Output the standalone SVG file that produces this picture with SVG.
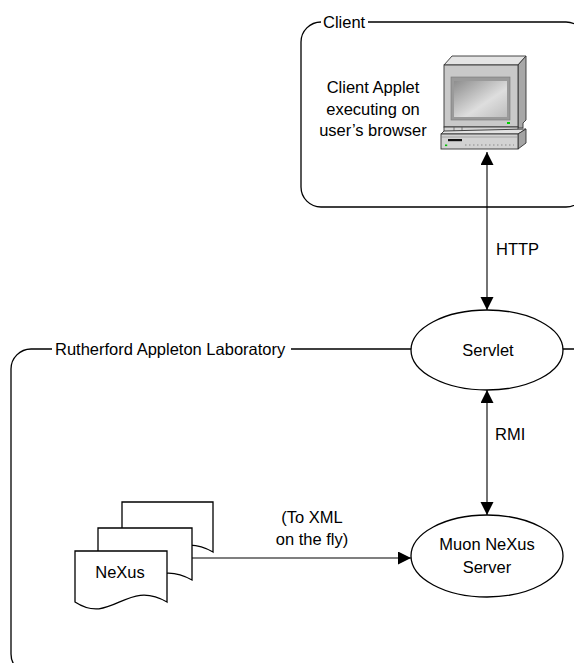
<svg xmlns="http://www.w3.org/2000/svg" width="574" height="663" viewBox="0 0 574 663">
<style>
text{font-family:"Liberation Sans",Arial,sans-serif;font-size:16.5px;fill:#000}
.c{text-anchor:middle}
.box{fill:none;stroke:#000;stroke-width:1.3}
.node{fill:#fff;stroke:#000;stroke-width:1.3}
.conn{stroke:#000;stroke-width:1.1;fill:none}
.ol{stroke:#333;stroke-width:0.9}
</style>
<defs>
<marker id="ah" markerUnits="userSpaceOnUse" markerWidth="14" markerHeight="14" refX="13" refY="6.5" orient="auto-start-reverse">
<path d="M0,0 L13,6.5 L0,13 Z" fill="#000"/>
</marker>
<linearGradient id="scr" x1="0" y1="0" x2="1" y2="1">
<stop offset="0" stop-color="#8e8e8e"/>
<stop offset="0.6" stop-color="#dedede"/>
<stop offset="1" stop-color="#bdbdbd"/>
</linearGradient>
</defs>
<rect x="0" y="0" width="574" height="663" fill="#fff"/>

<g id="client-group">
<rect class="box" x="301" y="22" width="285" height="185" rx="20"/>
<rect x="321" y="14" width="47" height="18" fill="#fff"/>
<text x="323" y="28">Client</text>
</g>

<g id="ral-group">
<rect class="box" x="11" y="349" width="585" height="325" rx="20"/>
<rect x="52" y="340" width="239" height="18" fill="#fff"/>
<text x="55" y="355">Rutherford Appleton Laboratory</text>
</g>

<g id="client-applet">
<text class="c" x="373" y="93">Client Applet</text>
<text class="c" x="373" y="114.5">executing on</text>
<text class="c" x="373" y="136">user’s browser</text>
<g id="computer">
<polygon class="ol" points="444,65 452,56 526,56 518,65" fill="#e4e4e4"/>
<polygon class="ol" points="518,65 526,56 526,120 523,123 523,128 518,128" fill="#a8a8a8"/>
<rect class="ol" x="444" y="65" width="74" height="62" fill="#c9c9c9"/>
<rect x="451" y="77" width="59" height="43" fill="#9a9a9a" stroke="#777" stroke-width="0.6"/>
<rect x="454" y="81" width="53" height="36" fill="url(#scr)"/>
<rect x="507" y="122" width="3" height="2" fill="#00d000"/>
<rect class="ol" x="444" y="127" width="74" height="5" fill="#d4d4d4"/>
<line x1="454" y1="127" x2="454" y2="132" stroke="#555" stroke-width="0.7"/>
<line x1="462" y1="127" x2="462" y2="132" stroke="#555" stroke-width="0.7"/>
<polygon class="ol" points="441,134 444,131 526,129 518,134" fill="#e2e2e2"/>
<polygon class="ol" points="518,134 526,129 526,143 518,149" fill="#a4a4a4"/>
<rect class="ol" x="441" y="134" width="77" height="15" fill="#d2d2d2"/>
<line x1="441" y1="137" x2="518" y2="137" stroke="#888" stroke-width="0.6"/>
<rect x="448" y="139" width="14" height="2.2" fill="#111"/>
<rect x="445" y="144.5" width="2.2" height="1.6" fill="#00c000"/>
<line x1="465" y1="145" x2="514" y2="145" stroke="#8a8a8a" stroke-width="1" stroke-dasharray="1.5,2.5"/>
</g>
</g>

<g id="connectors">
<line class="conn" x1="487" y1="152" x2="487" y2="310" marker-start="url(#ah)" marker-end="url(#ah)"/>
<line class="conn" x1="487" y1="390" x2="487" y2="515" marker-start="url(#ah)" marker-end="url(#ah)"/>
<line class="conn" x1="192" y1="558" x2="411" y2="558" marker-end="url(#ah)"/>
<text x="496" y="255">HTTP</text>
<text x="495" y="440">RMI</text>
<text class="c" x="312" y="523">(To XML</text>
<text class="c" x="312" y="545">on the fly)</text>
</g>

<g id="servlet">
<ellipse class="node" cx="487" cy="350" rx="76" ry="40"/>
<text class="c" x="488" y="356">Servlet</text>
</g>

<g id="muon-server">
<ellipse class="node" cx="487" cy="556" rx="76" ry="41"/>
<text class="c" x="487" y="550">Muon NeXus</text>
<text class="c" x="487" y="573">Server</text>
</g>

<g id="nexus-docs">
<path class="node" d="M122,552 L122,502 L213,502 L213,552 C172,528 158,576 122,552 Z"/>
<path class="node" d="M98,580 L98,528 L192,528 L192,580 C150,556 136,604 98,580 Z"/>
<path class="node" d="M75,602 L75,551 L167,551 L167,602 C126,578 112,626 75,602 Z"/>
<text class="c" x="120" y="578">NeXus</text>
</g>
</svg>
